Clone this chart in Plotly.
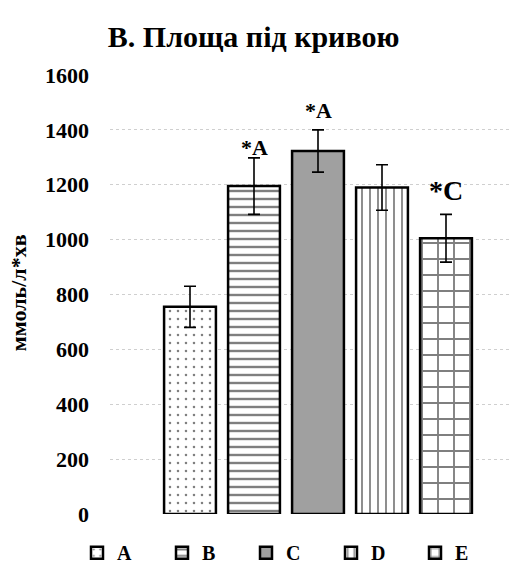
import plotly.graph_objects as go

categories = ["A", "B", "C", "D", "E"]
values = [755, 1195, 1323, 1190, 1005]
errors = [75, 103, 77, 83, 87]
labels = ["", "*A", "*A", "", "*C"]
y_ticks = [0, 200, 400, 600, 800, 1000, 1200, 1400, 1600]

patterns = [
    dict(shape=".", size=8, solidity=0.08, fgcolor="black", bgcolor="white"),
    dict(shape="-", size=8, solidity=0.3, fgcolor="black", bgcolor="white"),
    dict(shape="", fgcolor="black", bgcolor="#a0a0a0"),
    dict(shape="|", size=8, solidity=0.22, fgcolor="black", bgcolor="white"),
    dict(shape="+", size=16, solidity=0.22, fgcolor="black", bgcolor="white"),
]
fills = ["white", "white", "#a0a0a0", "white", "white"]
label_sizes = [22, 22, 22, 22, 28]
label_shift = [-4, -4, 5, 0, 6]
legend_x_px = [77, 162, 246, 331, 415]

FONT = "Liberation Serif, Times New Roman, serif"

fig = go.Figure()
legend_layout = {}
for i, c in enumerate(categories):
    lname = "legend" if i == 0 else f"legend{i + 1}"
    fig.add_trace(go.Bar(
        x=[i], y=[values[i]], name=c, width=0.81, legend=lname,
        marker=dict(color=fills[i], line=dict(color="black", width=2.5), pattern=patterns[i]),
        error_y=dict(type="data", array=[errors[i]], color="black", thickness=1.6, width=6),
    ))
    legend_layout[lname] = dict(
        orientation="h", xref="container", x=legend_x_px[i] / 515, xanchor="left",
        yref="container", y=0.027, yanchor="middle", itemwidth=30,
        bgcolor="rgba(0,0,0,0)",
        font=dict(family=FONT, size=20, color="black", weight="bold"))

for i, t in enumerate(labels):
    if t:
        fig.add_annotation(x=i, y=values[i] + errors[i], text=t, showarrow=False,
                           yanchor="bottom", yshift=label_shift[i],
                           font=dict(family=FONT, size=label_sizes[i], color="black", weight="bold"))

fig.add_annotation(xref="paper", yref="paper", x=-0.23, xanchor="center", y=0.503, text="ммоль/л*хв",
                   textangle=-90, showarrow=False,
                   font=dict(family=FONT, size=22, color="black", weight="bold"))

fig.update_layout(
    width=515, height=568,
    margin=dict(l=110, r=5, t=75, b=54, autoexpand=False),
    paper_bgcolor="white", plot_bgcolor="white",
    barmode="overlay",
    font=dict(family=FONT, color="black"),
    title=dict(text="B. Площа під кривою", x=0.359, xref="paper", xanchor="center",
               y=0.935, yanchor="middle",
               font=dict(family=FONT, size=30, color="black", weight="bold")),
    xaxis=dict(range=[-1.25, 5.0], showticklabels=False, showgrid=False, zeroline=False, showline=False),
    yaxis=dict(range=[0, 1600], tickvals=y_ticks, showgrid=True, gridcolor="#cfcfcf", griddash="dot",
               gridwidth=1, zeroline=False, showline=False, ticks="", ticklabelstandoff=20,
               tickfont=dict(family=FONT, size=22, color="black", weight="bold")),
    showlegend=True,
    **legend_layout,
)

fig.write_html("out.html")
